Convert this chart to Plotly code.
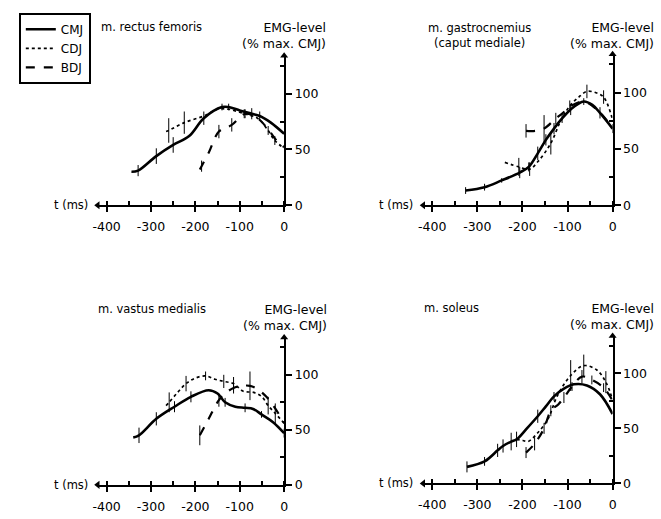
import plotly.graph_objects as go

# ---------------- data (t in ms, EMG level in % max. CMJ) ----------------
RF_CMJ_T = [-344, -329, -288, -250, -214, -181, -140, -125, -100, -73, -55, -30, 0]
RF_CMJ_V = [30, 31, 44, 54, 62, 78, 88, 88, 85, 82, 80, 74, 64]
RF_CMJ_E = [0, 5, 7, 7, 0, 6, 3, 3, 0, 5, 4, 0, 0]
RF_CDJ_T = [-266, -260, -225, -181, -150, -125, -90, -60, -36, -21, 0]
RF_CDJ_V = [66, 67, 74, 80, 86, 86, 82, 78, 67, 58, 51]
RF_CDJ_E = [0, 11, 10, 0, 0, 0, 4, 0, 4, 4, 0]
RF_BDJ_T = [-190, -186, -170, -147, -118, -88, -60, -36, -15, 0]
RF_BDJ_V = [32, 35, 47, 66, 72, 82, 78, 68, 57, 52]
RF_BDJ_E = [0, 5, 0, 6, 6, 4, 0, 0, 0, 0]

GM_CMJ_T = [-326, -284, -246, -206, -186, -166, -148, -130, -112, -93, -64, -45, -28, 0]
GM_CMJ_V = [13, 16, 22, 29, 34, 46, 58, 68, 77, 85, 92, 89, 82, 68]
GM_CMJ_E = [3, 3, 2, 5, 4, 6, 5, 5, 4, 5, 3, 0, 5, 4]
GM_CDJ_T = [-239, -208, -184, -165, -137, -115, -95, -75, -57, -38, -20, 0]
GM_CDJ_V = [38, 34, 32, 39, 55, 75, 88, 96, 101, 100, 96, 76]
GM_CDJ_E = [0, 8, 6, 0, 10, 0, 5, 0, 6, 0, 6, 0]
GM_BDJ_T = [-192, -172, -152, -126, -110, -93, -64, -30, 0]
GM_BDJ_V = [66, 66, 68, 77, 82, 88, 92, 83, 68]
GM_BDJ_E = [6, 0, 12, 5, 0, 0, 0, 0, 0]

VM_CMJ_T = [-340, -327, -288, -247, -210, -170, -150, -133, -110, -88, -70, -51, -25, 0]
VM_CMJ_V = [43, 45, 60, 71, 80, 86, 83, 75, 71, 70, 69, 64, 57, 47]
VM_CMJ_E = [0, 7, 6, 5, 5, 0, 0, 4, 0, 4, 0, 3, 0, 4]
VM_CDJ_T = [-266, -259, -240, -221, -200, -177, -156, -136, -114, -92, -69, -50, -36, -20, 0]
VM_CDJ_V = [72, 75, 84, 92, 97, 99, 96, 94, 92, 85, 84, 80, 72, 65, 56]
VM_CDJ_E = [0, 9, 0, 7, 0, 4, 0, 6, 6, 0, 0, 0, 8, 9, 0]
VM_BDJ_T = [-190, -170, -147, -130, -114, -95, -77, -60, -40, -21, 0]
VM_BDJ_V = [45, 60, 77, 84, 88, 90, 90, 87, 80, 70, 56]
VM_BDJ_E = [9, 0, 6, 0, 5, 0, 13, 0, 0, 0, 0]

SO_CMJ_T = [-323, -284, -255, -243, -225, -213, -190, -166, -148, -130, -108, -86, -57, -28, 0]
SO_CMJ_V = [15, 20, 30, 34, 38, 40, 50, 61, 70, 79, 86, 90, 89, 81, 63]
SO_CMJ_E = [5, 4, 6, 6, 8, 7, 0, 6, 0, 4, 0, 0, 0, 0, 0]
SO_CDJ_T = [-213, -199, -188, -166, -144, -122, -93, -64, -35, -15, 0]
SO_CDJ_V = [40, 39, 38, 46, 58, 80, 98, 107, 103, 92, 76]
SO_CDJ_E = [0, 0, 0, 0, 0, 0, 14, 10, 0, 10, 0]
SO_BDJ_T = [-192, -173, -152, -137, -120, -108, -90, -68, -46, -20, 0]
SO_BDJ_V = [28, 36, 50, 66, 72, 78, 88, 97, 94, 87, 75]
SO_BDJ_E = [5, 6, 5, 5, 0, 5, 4, 6, 4, 4, 0]

X_TICKS = [-400, -300, -200, -100, 0]
X_TICK_TEXT = ["-400", "-300", "-200", "-100", "0"]
Y_TICKS = [0, 50, 100]
Y_TICK_TEXT = ["0", "50", "100"]
X_LEFT = -420
Y_TOP = 134

PANELS = [
    ("m. rectus femoris", (RF_CMJ_T, RF_CMJ_V, RF_CMJ_E), (RF_CDJ_T, RF_CDJ_V, RF_CDJ_E), (RF_BDJ_T, RF_BDJ_V, RF_BDJ_E)),
    ("m. gastrocnemius<br>(caput mediale)", (GM_CMJ_T, GM_CMJ_V, GM_CMJ_E), (GM_CDJ_T, GM_CDJ_V, GM_CDJ_E), (GM_BDJ_T, GM_BDJ_V, GM_BDJ_E)),
    ("m. vastus medialis", (VM_CMJ_T, VM_CMJ_V, VM_CMJ_E), (VM_CDJ_T, VM_CDJ_V, VM_CDJ_E), (VM_BDJ_T, VM_BDJ_V, VM_BDJ_E)),
    ("m. soleus", (SO_CMJ_T, SO_CMJ_V, SO_CMJ_E), (SO_CDJ_T, SO_CDJ_V, SO_CDJ_E), (SO_BDJ_T, SO_BDJ_V, SO_BDJ_E)),
]

# ---------------- layout geometry (pixels) ----------------
W, H = 661, 519
# (x_left_px, x_right_px, y_zero_px, y_top_px)
GEOM = [
    (94, 283, 208, 56.5),
    (424, 616, 208, 55),
    (94, 283, 491.5, 342),
    (424, 616, 490, 340.5),
]
TITLE_POS = [(95, 27, "left"), (481, 36, "center"), (92, 313, "left"), (423, 312, "left")]
EMG_X = [327, 660, 328, 660]
EMG_Y = [27, 27, 313, 312]

FONT = "DejaVu Sans"
STYLES = [("CMJ", "solid", 2.6), ("CDJ", "dot", 1.7), ("BDJ", "dash", 2.2)]

fig = go.Figure()
annotations = []
layout = {}

for i, (title, *series) in enumerate(PANELS):
    n = "" if i == 0 else str(i + 1)
    xa, ya = "x" + n, "y" + n
    xl, xr, y0, yt = GEOM[i]
    layout["xaxis" + n] = dict(
        domain=[xl / W, xr / W], range=[X_LEFT, 0], anchor=ya,
        showline=True, linecolor="black", linewidth=2,
        tickvals=X_TICKS, ticktext=X_TICK_TEXT, ticks="outside", ticklen=5,
        tickwidth=2, tickcolor="black", ticklabelstandoff=4,
        minor=dict(dtick=50, tick0=0, ticks="inside", ticklen=4, tickwidth=1.5, tickcolor="black"),
        showgrid=False, zeroline=False, fixedrange=True,
        tickfont=dict(family=FONT, size=12.5, color="black"),
    )
    layout["yaxis" + n] = dict(
        domain=[1 - y0 / H, 1 - yt / H], range=[0, Y_TOP], anchor=xa, side="right",
        showline=True, linecolor="black", linewidth=2,
        tickvals=Y_TICKS, ticktext=Y_TICK_TEXT, ticks="outside", ticklen=6,
        tickwidth=2, tickcolor="black",
        minor=dict(tickvals=[25, 75, 125], ticks="inside", ticklen=4, tickwidth=1.5, tickcolor="black"),
        showgrid=False, zeroline=False, fixedrange=True,
        tickfont=dict(family=FONT, size=12.5, color="black"),
    )
    for (name, dash, lw), (t, v, e) in zip(STYLES, series):
        fig.add_trace(go.Scatter(
            x=t, y=v, mode="lines", name=name, xaxis=xa, yaxis=ya,
            line=dict(color="black", width=lw, dash=dash, shape="spline", smoothing=1.0),
            error_y=dict(type="data", array=e, symmetric=True, width=0, thickness=1, color="black"),
            showlegend=(i == 0), legendgroup=name,
        ))
    # arrow heads at the ends of the axes
    fig.add_trace(go.Scatter(
        x=[0, X_LEFT], y=[Y_TOP, 0], mode="markers", xaxis=xa, yaxis=ya,
        marker=dict(symbol=["triangle-up", "triangle-left"], size=7, color="black"),
        cliponaxis=False, showlegend=False, hoverinfo="skip",
    ))
    tx, ty, anc = TITLE_POS[i]
    annotations.append(dict(text=title, x=tx / W, y=1 - ty / H, xref="paper", yref="paper",
                            xanchor=anc, yanchor="middle", showarrow=False,
                            font=dict(family=FONT, size=11.5, color="black")))
    annotations.append(dict(text="EMG-level<br>(% max. CMJ)", x=EMG_X[i] / W, y=1 - (EMG_Y[i] + 9) / H,
                            xref="paper", yref="paper", xanchor="right", yanchor="middle",
                            align="right", showarrow=False,
                            font=dict(family=FONT, size=12.5, color="black")))
    annotations.append(dict(text="t (ms)", x=(xl - 8) / W, y=1 - y0 / H, xref="paper", yref="paper",
                            xanchor="right", yanchor="middle", showarrow=False,
                            font=dict(family=FONT, size=11.5, color="black")))

fig.update_layout(
    width=W, height=H, margin=dict(l=0, r=0, t=0, b=0),
    paper_bgcolor="white", plot_bgcolor="white",
    annotations=annotations,
    legend=dict(x=14 / W, y=1 - 13 / H, xanchor="left", yanchor="top",
                bordercolor="black", borderwidth=2, bgcolor="white",
                font=dict(family=FONT, size=12, color="black"),
                itemwidth=30, tracegroupgap=0),
    **layout,
)

fig.write_html("out.html", config={"displayModeBar": False},
               post_script="document.body.style.margin='0';document.body.style.padding='0';")
